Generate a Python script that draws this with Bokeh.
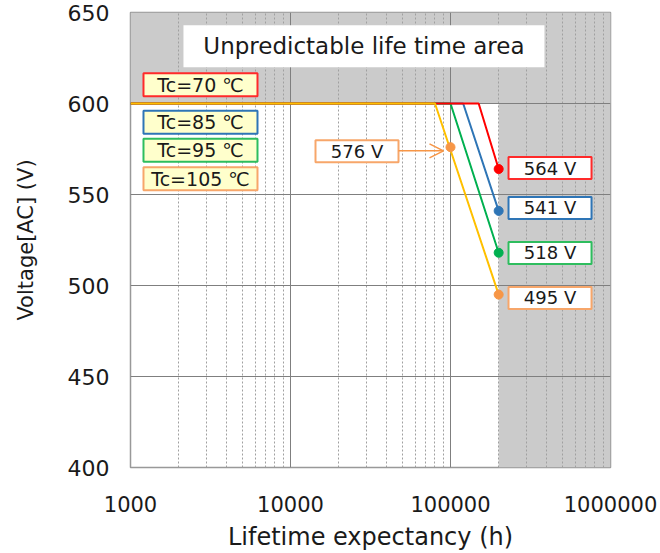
from bokeh.plotting import figure
from bokeh.models import (FixedTicker, BoxAnnotation, Arrow, OpenHead,
                          PrintfTickFormatter, Range1d)
from bokeh.core.properties import value
from bokeh.embed import file_html
from bokeh.resources import INLINE

# ---------------- data ----------------
series_names = ["Tc=70 ℃", "Tc=85 ℃", "Tc=95 ℃", "Tc=105 ℃"]
life_start = [1000, 1000, 1000, 1000]
life_knee = [150000, 120000, 100000, 80000]
life_end = [200000, 200000, 200000, 200000]
v_rated = [600, 600, 600, 600]
v_end = [564, 541, 518, 495]
end_labels = ["564 V", "541 V", "518 V", "495 V"]
line_colors = ["#FF0000", "#2E75B6", "#00B050", "#FFC000"]
mark_colors = ["#FF0000", "#2E75B6", "#00B050", "#F79646"]
box_colors = ["#FF2A2A", "#2E75B6", "#2EBD5E", "#F7A66A"]
draw_order = [1, 2, 0, 3]

callout_life = [100000]
callout_v = [576]
callout_text = ["576 V"]

limit_voltage = 600
limit_life = 200000
area_text = "Unpredictable life time area"

x_ticks = [1000, 10000, 100000, 1000000]
x_minor = [m * d for d in [1000, 10000, 100000] for m in range(2, 10)]
y_ticks = [400, 450, 500, 550, 600, 650]

FONT = "DejaVu Sans"

p = figure(width=660, height=553, x_axis_type="log",
           x_range=Range1d(1000, 1000000), y_range=Range1d(400, 650),
           output_backend="svg", toolbar_location=None, title=None,
           min_border_left=130, min_border_right=50,
           min_border_top=12, min_border_bottom=85)

p.background_fill_color = "white"
p.border_fill_color = "white"
p.outline_line_color = "#999999"
p.outline_line_width = 1.5

# shaded areas
p.add_layout(BoxAnnotation(bottom=limit_voltage, fill_color="#CBCBCB", fill_alpha=1,
                           line_color=None, level="image"))
p.add_layout(BoxAnnotation(left=limit_life, fill_color="#CBCBCB", fill_alpha=1,
                           line_color=None, level="image"))

# axes
p.xaxis.ticker = FixedTicker(ticks=x_ticks, minor_ticks=x_minor)
p.xaxis.formatter = PrintfTickFormatter(format="%d")
p.yaxis.ticker = FixedTicker(ticks=y_ticks)
for ax in (p.xaxis, p.yaxis):
    ax.axis_line_color = None
    ax.major_tick_line_color = None
    ax.minor_tick_line_color = None
    ax.major_tick_out = 0
    ax.minor_tick_out = 0
    ax.major_label_text_font = FONT
    ax.major_label_text_font_size = "22px"
    ax.major_label_text_color = "#1a1a1a"
    ax.axis_label_text_font = FONT
    ax.axis_label_text_font_style = "normal"
    ax.axis_label_text_color = "#1a1a1a"
p.xaxis.major_label_text_font_size = "21px"
p.xaxis.axis_label = "Lifetime expectancy (h)"
p.yaxis.axis_label = "Voltage[AC] (V)"
p.xaxis.axis_label_text_font_size = "24px"
p.yaxis.axis_label_text_font_size = "21px"
p.xaxis.major_label_standoff = 28
p.xaxis.axis_label_standoff = 8
p.yaxis.major_label_standoff = 21
p.yaxis.axis_label_standoff = 27

# grid
p.xgrid.grid_line_color = "#7F7F7F"
p.xgrid.grid_line_width = 1
p.xgrid.minor_grid_line_color = "#A0A0A0"
p.xgrid.minor_grid_line_dash = "2 2"
p.xgrid.minor_grid_line_width = 1
p.ygrid.grid_line_color = "#7F7F7F"
p.ygrid.grid_line_width = 1

# title box of shaded area
p.rect(x=[28780], y=[631.4], width=361, height=42, width_units="screen",
       height_units="screen", fill_color="white", line_color=None)
p.text(x=[28780], y=[631.4], text=[area_text], text_font=value(FONT),
       text_font_size="23px", text_align="center", text_baseline="middle",
       text_color="#1a1a1a")

# lines
for i in draw_order:
    p.line(x=[life_start[i], life_knee[i], life_end[i]],
           y=[v_rated[i], v_rated[i], v_end[i]],
           line_color=line_colors[i], line_width=2)

# callout arrow
p.add_layout(Arrow(end=OpenHead(size=14, line_color="#F79646", line_width=1.5),
                   x_start=47300, y_start=callout_v[0] - 2, x_end=90400, y_end=callout_v[0] - 2,
                   line_color="#F79646", line_width=1.5))

# markers
p.scatter(x=life_end, y=v_end, size=9, color=mark_colors)
p.scatter(x=callout_life, y=callout_v, size=9, color="#F79646")

# series legend boxes
legend_y = [610.3, 589.7, 574.3, 558.7]
p.rect(x=[2738] * 4, y=legend_y, width=114, height=23, width_units="screen",
       height_units="screen", fill_color="#FFFFCC", line_color=box_colors, line_width=2)
p.text(x=[2738] * 4, y=legend_y, text=series_names, text_font=value(FONT),
       text_font_size="19px", text_align="center", text_baseline="middle",
       text_color="#1a1a1a")

# end value boxes
val_x = [418800] * 4
val_y = [564.5, 542.6, 517.9, 493.2]
p.rect(x=val_x, y=val_y, width=83, height=22, width_units="screen",
       height_units="screen", fill_color="white", line_color=box_colors, line_width=2)
p.text(x=val_x, y=val_y, text=end_labels, text_font=value(FONT),
       text_font_size="18px", text_align="center", text_baseline="middle",
       text_color="#1a1a1a")

# callout box
p.rect(x=[26040], y=[573.8], width=83, height=22, width_units="screen",
       height_units="screen", fill_color="white", line_color="#F7A66A", line_width=2)
p.text(x=[26040], y=[573.8], text=callout_text, text_font=value(FONT),
       text_font_size="18px", text_align="center", text_baseline="middle",
       text_color="#1a1a1a")

open("out.html", "w").write(file_html(p, INLINE))
